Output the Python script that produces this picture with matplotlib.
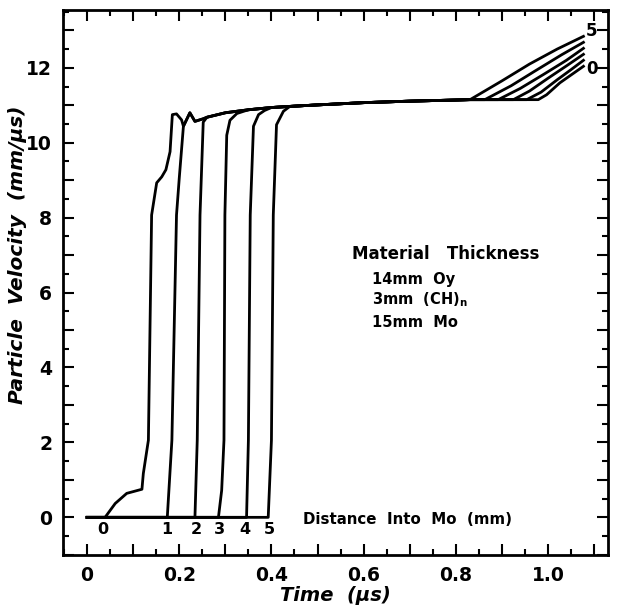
#Imported modules
import matplotlib
matplotlib.use('Agg')
from matplotlib import pyplot as plt
from matplotlib.ticker import MultipleLocator, FuncFormatter

#Plateau shared by all gauges (time in us, velocity in mm/us)
plateau_t = [0.26, 0.30, 0.35, 0.40, 0.44, 0.50, 0.60, 0.70, 0.80, 0.83]
plateau_v = [10.68, 10.80, 10.88, 10.94, 10.97, 11.01, 11.07, 11.11, 11.14, 11.15]

#Early part of each gauge record (before joining the plateau)
early_t = [
    [0.0, 0.039, 0.061, 0.086, 0.119, 0.122, 0.133, 0.140, 0.151, 0.162, 0.171,
     0.180, 0.185, 0.194, 0.205, 0.209, 0.223, 0.234, 0.252],
    [0.0, 0.174, 0.184, 0.194, 0.200, 0.209, 0.223, 0.234, 0.252],
    [0.0, 0.234, 0.239, 0.245, 0.252],
    [0.0, 0.285, 0.292, 0.297, 0.299, 0.303, 0.310, 0.325],
    [0.0, 0.346, 0.350, 0.354, 0.361, 0.372, 0.385],
    [0.0, 0.393, 0.400, 0.404, 0.411, 0.426, 0.44],
]
early_v = [
    [0.0, 0.0, 0.37, 0.64, 0.75, 1.17, 2.06, 8.07, 8.93, 9.09, 9.28,
     9.76, 10.75, 10.77, 10.61, 10.44, 10.80, 10.57, 10.64],
    [0.0, 0.0, 2.06, 8.07, 9.06, 10.44, 10.80, 10.57, 10.64],
    [0.0, 0.0, 2.06, 8.07, 10.55],
    [0.0, 0.0, 0.72, 2.06, 8.07, 10.20, 10.60, 10.78],
    [0.0, 0.0, 2.06, 8.07, 10.44, 10.75, 10.86],
    [0.0, 0.0, 2.06, 8.07, 10.48, 10.84, 10.97],
]

#Late rise of each gauge record (after leaving the plateau)
late_t = [
    [0.979, 0.997, 1.026, 1.077],
    [0.954, 0.985, 1.020, 1.050, 1.077],
    [0.925, 0.960, 1.000, 1.040, 1.077],
    [0.892, 0.940, 0.990, 1.040, 1.077],
    [0.863, 0.920, 0.970, 1.030, 1.077],
    [0.831, 0.900, 0.960, 1.020, 1.077],
]
late_v = [
    [11.15, 11.28, 11.60, 12.04],
    [11.15, 11.35, 11.68, 11.95, 12.20],
    [11.15, 11.38, 11.72, 12.05, 12.36],
    [11.15, 11.45, 11.82, 12.20, 12.52],
    [11.15, 11.52, 11.90, 12.35, 12.68],
    [11.15, 11.65, 12.10, 12.50, 12.84],
]

#Gauge labels (distance into Mo, mm)
gauge_labels = ['0', '1', '2', '3', '4', '5']
gauge_label_t = [0.035, 0.173, 0.238, 0.288, 0.343, 0.396]

plt.rcParams['font.family'] = 'DejaVu Sans'
plt.rcParams['font.weight'] = 'bold'
plt.rcParams['mathtext.default'] = 'bf'

fig = plt.figure(figsize=(6.19, 6.09), dpi=100)
ax = fig.add_axes([0.102, 0.089, 0.880, 0.895])

#Draw each gauge: early part, plateau section, late rise
for k in range(len(early_t)):
    t_start = early_t[k][-1]
    t_end = late_t[k][0]
    pt = [t for t in plateau_t if t_start < t < t_end]
    pv = [v for t, v in zip(plateau_t, plateau_v) if t_start < t < t_end]
    t_all = early_t[k] + pt + late_t[k]
    v_all = early_v[k] + pv + late_v[k]
    ax.plot(t_all, v_all, color='black', lw=2.0, solid_joinstyle='round')

#Gauge labels along the bottom
for lab, t in zip(gauge_labels, gauge_label_t):
    ax.text(t, -0.32, lab, ha='center', va='center', fontsize=11.5,
            fontweight='bold')
ax.text(1.082, 12.98, '5', ha='left', va='center', fontsize=12, fontweight='bold')
ax.text(1.084, 11.97, '0', ha='left', va='center', fontsize=12, fontweight='bold')

#Annotations
ax.text(0.469, -0.05, 'Distance  Into  Mo  (mm)', ha='left', va='center',
        fontsize=10.8, fontweight='bold')
ax.text(0.575, 7.03, 'Material   Thickness', ha='left', va='center',
        fontsize=12, fontweight='bold')
ax.text(0.618, 6.36, '14mm  Oy', ha='left', va='center', fontsize=10.5,
        fontweight='bold')
ax.text(0.618, 5.80, r'3mm  (CH)$_n$', ha='left', va='center', fontsize=10.5,
        fontweight='bold')
ax.text(0.618, 5.21, '15mm  Mo', ha='left', va='center', fontsize=10.5,
        fontweight='bold')

#Axes limits and ticks
ax.set_xlim(-0.052, 1.13)
ax.set_ylim(-1.0, 13.55)
ax.xaxis.set_major_locator(MultipleLocator(0.1))
ax.xaxis.set_minor_locator(MultipleLocator(0.05))
ax.yaxis.set_major_locator(MultipleLocator(1))
ax.yaxis.set_minor_locator(MultipleLocator(0.5))

def xfmt(x, pos):
    if abs(round(x * 10) % 2) == 1 or x < -0.01:
        return ''
    if abs(x) < 1e-9:
        return '0'
    return '%.1f' % x

def yfmt(y, pos):
    if int(round(y)) % 2 == 1:
        return ''
    return '%d' % round(y)

ax.xaxis.set_major_formatter(FuncFormatter(xfmt))
ax.yaxis.set_major_formatter(FuncFormatter(yfmt))
ax.tick_params(which='both', direction='in', top=True, right=True, width=1.5,
               labelsize=13.5)
ax.tick_params(which='major', length=8, pad=8)
ax.tick_params(which='minor', length=4)
for s in ax.spines.values():
    s.set_linewidth(2)

ax.set_xlabel('Time  (\u03bcs)', fontsize=14, style='italic',
              fontweight='bold', labelpad=1)
ax.set_ylabel('Particle  Velocity  (mm/\u03bcs)', fontsize=14.5, style='italic',
              fontweight='bold')
ax.yaxis.set_label_coords(-0.066, 0.55)

fig.savefig('out.png', dpi=100)
